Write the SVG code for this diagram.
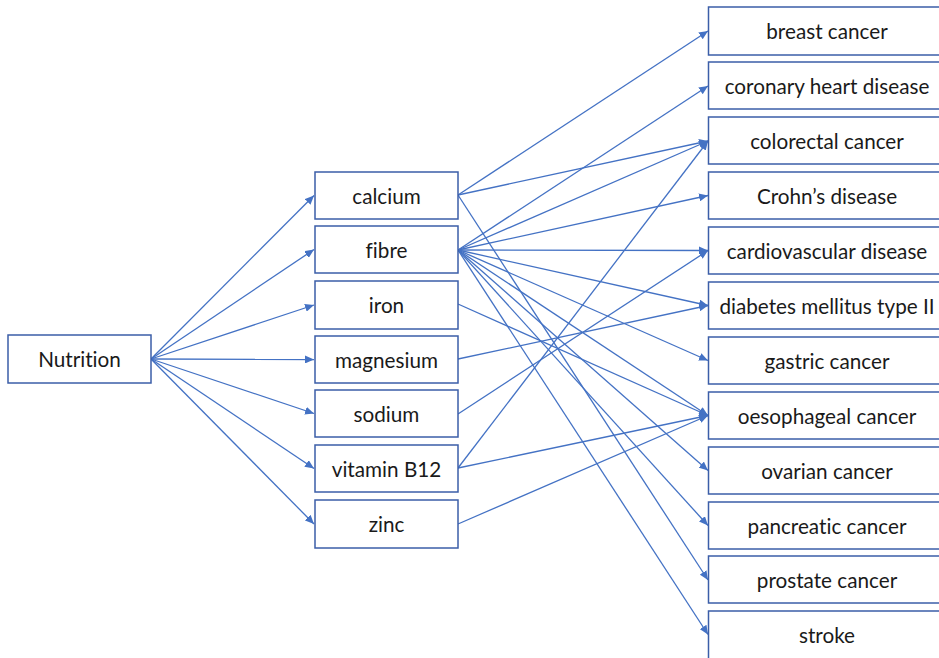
<svg xmlns="http://www.w3.org/2000/svg" width="939" height="658" viewBox="0 0 939 658">
<style>
.box{fill:#ffffff;stroke:#3b5ea8;stroke-width:1.5}
.t{font-family:Lato,"Open Sans","Liberation Sans",sans-serif;font-size:20.7px;fill:#1a1a1a;text-anchor:middle;dominant-baseline:central;font-variant-ligatures:none;font-feature-settings:"liga" 0}
.c{stroke:#4472c4;stroke-width:1.3;fill:none;marker-end:url(#ah)}
</style>
<defs>
<marker id="ah" markerUnits="userSpaceOnUse" markerWidth="10" markerHeight="8" refX="9" refY="4" orient="auto">
<path d="M0,0 L9,4 L0,8 Z" fill="#4472c4"/>
</marker>
</defs>
<rect width="939" height="658" fill="#ffffff"/>
<g id="connectors">
<line class="c" x1="151" y1="359" x2="314" y2="195.5"/>
<line class="c" x1="151" y1="359" x2="314" y2="249.5"/>
<line class="c" x1="151" y1="359" x2="314" y2="305"/>
<line class="c" x1="151" y1="359" x2="314" y2="359.5"/>
<line class="c" x1="151" y1="359" x2="314" y2="413.5"/>
<line class="c" x1="151" y1="359" x2="314" y2="468.5"/>
<line class="c" x1="151" y1="359" x2="314" y2="524"/>
<line class="c" x1="458" y1="195" x2="708" y2="31"/>
<line class="c" x1="458" y1="195" x2="708" y2="141"/>
<line class="c" x1="458" y1="195" x2="708" y2="580"/>
<line class="c" x1="458" y1="250" x2="708" y2="86"/>
<line class="c" x1="458" y1="250" x2="708" y2="141"/>
<line class="c" x1="458" y1="250" x2="708" y2="195.5"/>
<line class="c" x1="458" y1="250" x2="708" y2="250.5"/>
<line class="c" x1="458" y1="250" x2="708" y2="305.5"/>
<line class="c" x1="458" y1="250" x2="708" y2="360.5"/>
<line class="c" x1="458" y1="250" x2="708" y2="415.5"/>
<line class="c" x1="458" y1="250" x2="708" y2="470.5"/>
<line class="c" x1="458" y1="250" x2="708" y2="525.5"/>
<line class="c" x1="458" y1="250" x2="708" y2="634.5"/>
<line class="c" x1="458" y1="304" x2="708" y2="415.5"/>
<line class="c" x1="458" y1="359" x2="708" y2="305.5"/>
<line class="c" x1="458" y1="414" x2="708" y2="250.5"/>
<line class="c" x1="458" y1="468" x2="708" y2="141"/>
<line class="c" x1="458" y1="468" x2="708" y2="415.5"/>
<line class="c" x1="458" y1="524" x2="708" y2="415.5"/>
</g>
<g id="n-nutrition"><rect class="box" x="8" y="335" width="143" height="48"/><text class="t" x="79.5" y="359">Nutrition</text></g>
<g id="n-calcium"><rect class="box" x="315" y="172" width="143" height="47"/><text class="t" x="386.5" y="195.5">calcium</text></g>
<g id="n-fibre"><rect class="box" x="315" y="226" width="143" height="47"/><text class="t" x="386.5" y="249.5">fibre</text></g>
<g id="n-iron"><rect class="box" x="315" y="281" width="143" height="48"/><text class="t" x="386.5" y="305">iron</text></g>
<g id="n-magnesium"><rect class="box" x="315" y="336" width="143" height="47"/><text class="t" x="386.5" y="359.5">magnesium</text></g>
<g id="n-sodium"><rect class="box" x="315" y="390" width="143" height="47"/><text class="t" x="386.5" y="413.5">sodium</text></g>
<g id="n-vitaminb12"><rect class="box" x="315" y="445" width="143" height="47"/><text class="t" x="386.5" y="468.5">vitamin B12</text></g>
<g id="n-zinc"><rect class="box" x="315" y="500" width="143" height="48"/><text class="t" x="386.5" y="524">zinc</text></g>
<g id="n-breast"><rect class="box" x="708.5" y="7" width="240" height="48"/><text class="t" x="827" y="31">breast cancer</text></g>
<g id="n-coronary"><rect class="box" x="708.5" y="62" width="240" height="47"/><text class="t" x="827" y="85.5">coronary heart disease</text></g>
<g id="n-colorectal"><rect class="box" x="708.5" y="117" width="240" height="47"/><text class="t" x="827" y="140.5">colorectal cancer</text></g>
<g id="n-crohns"><rect class="box" x="708.5" y="172" width="240" height="47"/><text class="t" x="827" y="195.5">Crohn’s disease</text></g>
<g id="n-cardio"><rect class="box" x="708.5" y="227" width="240" height="47"/><text class="t" x="827" y="250.5">cardiovascular disease</text></g>
<g id="n-diabetes"><rect class="box" x="708.5" y="282" width="240" height="47"/><text class="t" x="827" y="305.5">diabetes mellitus type II</text></g>
<g id="n-gastric"><rect class="box" x="708.5" y="337" width="240" height="47"/><text class="t" x="827" y="360.5">gastric cancer</text></g>
<g id="n-oesophageal"><rect class="box" x="708.5" y="392" width="240" height="47"/><text class="t" x="827" y="415.5">oesophageal  cancer</text></g>
<g id="n-ovarian"><rect class="box" x="708.5" y="447" width="240" height="47"/><text class="t" x="827" y="470.5">ovarian cancer</text></g>
<g id="n-pancreatic"><rect class="box" x="708.5" y="502" width="240" height="47"/><text class="t" x="827" y="525.5">pancreatic cancer</text></g>
<g id="n-prostate"><rect class="box" x="708.5" y="556" width="240" height="47"/><text class="t" x="827" y="579.5">prostate cancer</text></g>
<g id="n-stroke"><rect class="box" x="708.5" y="611" width="240" height="48"/><text class="t" x="827" y="635">stroke</text></g>
</svg>
